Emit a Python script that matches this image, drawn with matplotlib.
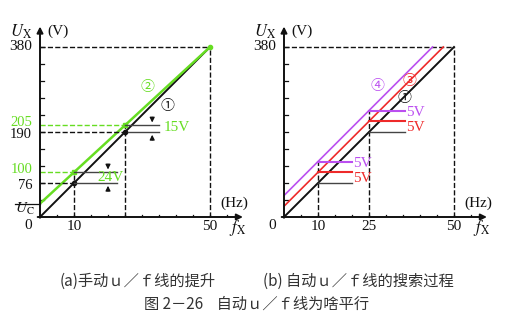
import numpy as np
import matplotlib.pyplot as plt

plt.rcParams['font.family'] = ['Liberation Serif', 'Noto Sans CJK SC', 'DejaVu Sans']
plt.rcParams['mathtext.fontset'] = 'stix'

# u/f curve data (Hz, V)
freqs = [0, 10, 25, 50]
base_volts = [0, 76, 190, 380]          # line 1
uc = 30
boost_volts = [uc, 100, 205, 380]       # line 2 (manual boost)
search_offsets = [24, 48]               # lines 3 and 4 (auto search steps)
step_freqs = [10, 25]
step_ends = [20, 35.5]
circle_labels = ['①', '②', '③', '④']

BLACK = '#111111'
GREEN = '#66dd22'
RED = '#ee2a2a'
PURPLE = '#bb4ff0'
GRAY = '#444444'
CJK = ['Noto Sans CJK SC', 'DejaVu Sans']

W, H = 511, 326
fig = plt.figure(figsize=(W / 100, H / 100), dpi=100)
px_f = 3.4      # px per Hz
px_v = 170 / 380  # px per V
XMAX, YMAX = 62, 440


def make_ax(x0, y0):
    ax = fig.add_axes([x0 / W, (H - y0) / H, XMAX * px_f / W, YMAX * px_v / H])
    ax.set_xlim(0, XMAX)
    ax.set_ylim(0, YMAX)
    ax.axis('off')
    # axes with arrows
    ax.annotate('', xy=(60.5, 0), xytext=(-1.5, 0),
                arrowprops=dict(arrowstyle='-|>', color=BLACK, lw=1.4, mutation_scale=9),
                annotation_clip=False)
    ax.annotate('', xy=(0, 432), xytext=(0, -8),
                arrowprops=dict(arrowstyle='-|>', color=BLACK, lw=1.4, mutation_scale=9),
                annotation_clip=False)
    # small ticks
    for f in np.arange(5, 56, 5):
        ax.plot([f, f], [0, 5], color=BLACK, lw=0.9)
    for v in np.arange(38, 381, 38):
        ax.plot([0, 1.2], [v, v], color=BLACK, lw=0.9)
    ax.text(-2.3, 380, '380', ha='right', va='center', fontsize=11, color=BLACK)
    ax.text(-2.3, -18, '0', ha='right', va='center', fontsize=11, color=BLACK)
    ax.text(-5.5, 415, r'$U_{\rm X}$', ha='center', va='center', fontsize=12, color=BLACK)
    ax.text(2.2, 415, '(V)', ha='left', va='center', fontsize=11, color=BLACK)
    ax.text(53, 31, '(Hz)', ha='left', va='center', fontsize=11, color=BLACK)
    ax.text(58, -24, r'$f_{\rm X}$', ha='center', va='center', fontsize=12, color=BLACK)
    ax.plot([50, 50], [0, 380], ls='--', color=BLACK, lw=1.0)
    ax.plot([0, 50], [380, 380], ls='--', color=BLACK, lw=1.0)
    ax.text(50, -22, '50', ha='center', va='center', fontsize=11, color=BLACK)
    ax.text(10, -22, '10', ha='center', va='center', fontsize=11, color=BLACK)
    return ax


# ---- (a) manual boost ----
ax1 = make_ax(40, 217)
ax1.plot(freqs, base_volts, color=BLACK, lw=1.4)
ax1.plot(freqs, boost_volts, color=GREEN, lw=1.8)
for f, vb, vg in zip(freqs[1:3], base_volts[1:3], boost_volts[1:3]):
    ax1.plot([f, f], [0, vg], ls='--', color=BLACK, lw=1.0)
    ax1.plot([0, f], [vb, vb], ls='--', color=BLACK, lw=1.0)
    ax1.plot([0, f], [vg, vg], ls='--', color=GREEN, lw=1.0)
    ax1.plot(f, vb, 'o', color=BLACK, ms=3)
    ax1.plot(f, vg, 's', color=GREEN, ms=3)
ax1.plot(50, 380, 'o', color=GREEN, ms=3)
for v, c, dv in [(205, GREEN, 7), (190, BLACK, -5), (100, GREEN, 6), (76, BLACK, -5)]:
    ax1.text(-2.3, v + dv, str(v), ha='right', va='center', fontsize=10.5, color=c)
ax1.plot([-7.5, 0], [uc, uc], color=BLACK, lw=0.9, clip_on=False)
ax1.text(-4.5, 18, r'$U_{\rm C}$', ha='center', va='center', fontsize=11, color=BLACK)

# gap markers: 24V at 10 Hz, 15V at 25 Hz
ax1.plot([10, 22.5], [100, 100], color=GRAY, lw=1.0)
ax1.plot([10, 22.5], [76, 76], color=GRAY, lw=1.0)
ax1.annotate('', xy=(20, 100), xytext=(20, 124),
             arrowprops=dict(arrowstyle='-|>', color=BLACK, lw=0.9, mutation_scale=7))
ax1.annotate('', xy=(20, 76), xytext=(20, 52),
             arrowprops=dict(arrowstyle='-|>', color=BLACK, lw=0.9, mutation_scale=7))
ax1.text(17, 89, '24V', ha='left', va='center', fontsize=11, color=GREEN)
ax1.plot([25, 35], [205, 205], color=GRAY, lw=1.0)
ax1.plot([26, 35], [190, 190], color=GRAY, lw=1.0)
ax1.annotate('', xy=(33, 205), xytext=(33, 229),
             arrowprops=dict(arrowstyle='-|>', color=BLACK, lw=0.9, mutation_scale=7))
ax1.annotate('', xy=(33, 190), xytext=(33, 166),
             arrowprops=dict(arrowstyle='-|>', color=BLACK, lw=0.9, mutation_scale=7))
ax1.text(36.5, 199, '15V', ha='left', va='center', fontsize=11, color=GREEN)
ax1.text(31.5, 291, circle_labels[1], ha='center', va='center', fontsize=10, color=GREEN, family=CJK)
ax1.text(37.5, 248, circle_labels[0], ha='center', va='center', fontsize=10, color=BLACK, family=CJK)

# ---- (b) automatic search ----
ax2 = make_ax(284, 217)
ax2.text(25, -22, '25', ha='center', va='center', fontsize=11, color=BLACK)
ax2.plot([0, 50], [0, 380], color=BLACK, lw=1.4)
slope = 380 / 50
for off, c in zip(search_offsets, [RED, PURPLE]):
    ax2.plot([0, (380 - off) / slope], [off, 380], color=c, lw=1.2)
top = search_offsets[-1]
for f, fe in zip(step_freqs, step_ends):
    vb = slope * f
    ax2.plot([f, f], [0, vb + top], ls='--', color=BLACK, lw=1.0)
    ax2.plot([f, fe], [vb, vb], color=GRAY, lw=1.0)
    for off, c in zip(search_offsets, [RED, PURPLE]):
        ax2.plot([f, fe], [vb + off, vb + off], color=c, lw=1.5)
    ax2.text(fe + 0.4, vb + 11, '5V', ha='left', va='center', fontsize=11, color=RED)
    ax2.text(fe + 0.4, vb + 43, '5V', ha='left', va='center', fontsize=11, color=PURPLE)
ax2.text(27.6, 293, circle_labels[3], ha='center', va='center', fontsize=10, color=PURPLE, family=CJK)
ax2.text(36.8, 304, circle_labels[2], ha='center', va='center', fontsize=10, color=RED, family=CJK)
ax2.text(35.3, 266, circle_labels[0], ha='center', va='center', fontsize=10, color=BLACK, family=CJK)

# captions
cap = dict(ha='center', va='center', fontsize=11, color='#333333', family=CJK)
fig.text(138 / W, 1 - 281 / H, '(a)手动ｕ／ｆ线的提升', **cap)
fig.text(358 / W, 1 - 281 / H, '(b) 自动ｕ／ｆ线的搜索过程', **cap)
fig.text(257 / W, 1 - 304 / H, '图 2－26    自动ｕ／ｆ线为啥平行', **cap)

fig.savefig('out.png', dpi=100, facecolor='white')
